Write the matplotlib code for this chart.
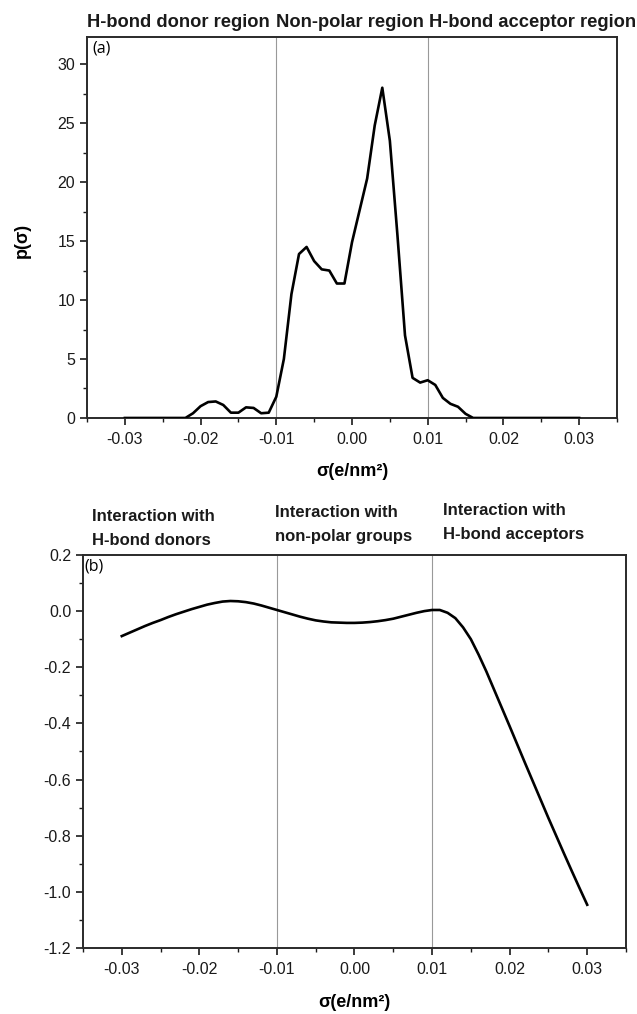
import numpy as np
import matplotlib
matplotlib.use('Agg')
import matplotlib.pyplot as plt
from matplotlib.ticker import MultipleLocator

plt.rcParams['font.family'] = ['Liberation Sans', 'DejaVu Sans']

# sigma grid of the profiles (e/nm2)
sigma = [-0.030, -0.029, -0.028, -0.027, -0.026, -0.025, -0.024, -0.023, -0.022, -0.021,
         -0.020, -0.019, -0.018, -0.017, -0.016, -0.015, -0.014, -0.013, -0.012, -0.011,
         -0.010, -0.009, -0.008, -0.007, -0.006, -0.005, -0.004, -0.003, -0.002, -0.001,
         0.000, 0.001, 0.002, 0.003, 0.004, 0.005, 0.006, 0.007, 0.008, 0.009,
         0.010, 0.011, 0.012, 0.013, 0.014, 0.015, 0.016, 0.017, 0.018, 0.019,
         0.020, 0.021, 0.022, 0.023, 0.024, 0.025, 0.026, 0.027, 0.028, 0.029, 0.030]

# (a) sigma profile p(sigma)
p_sigma = [0, 0, 0, 0, 0, 0, 0, 0, 0.0, 0.4,
           1.0, 1.35, 1.4, 1.1, 0.45, 0.45, 0.9, 0.85, 0.4, 0.45,
           1.8, 5.0, 10.5, 13.9, 14.5, 13.3, 12.6, 12.5, 11.4, 11.4,
           14.9, 17.6, 20.3, 24.8, 28.0, 23.5, 15.5, 7.0, 3.4, 3.0,
           3.2, 2.8, 1.7, 1.2, 0.95, 0.35, 0.0, 0, 0, 0,
           0, 0, 0, 0, 0, 0, 0, 0, 0, 0, 0]

# (b) sigma potential
mu_sigma = [-0.089, -0.077, -0.065, -0.053, -0.042, -0.032, -0.021, -0.011, -0.002, 0.007,
            0.015, 0.023, 0.029, 0.034, 0.036, 0.035, 0.032, 0.027, 0.020, 0.012,
            0.004, -0.004, -0.012, -0.020, -0.027, -0.033, -0.037, -0.040, -0.041, -0.042,
            -0.042, -0.041, -0.039, -0.036, -0.032, -0.027, -0.020, -0.013, -0.006, 0.000,
            0.004, 0.004, -0.006, -0.025, -0.058, -0.100, -0.155, -0.215, -0.280, -0.345,
            -0.410, -0.476, -0.542, -0.607, -0.672, -0.737, -0.800, -0.863, -0.925, -0.986, -1.046]

xtick_vals = [-0.03, -0.02, -0.01, 0.0, 0.01, 0.02, 0.03]
xtick_labs = ['-0.03', '-0.02', '-0.01', '0.00', '0.01', '0.02', '0.03']
ytick_vals_b = [0.2, 0.0, -0.2, -0.4, -0.6, -0.8, -1.0, -1.2]
ytick_labs_b = ['0.2', '0.0', '-0.2', '-0.4', '-0.6', '-0.8', '-1.0', '-1.2']

top_regions = ['H-bond donor region', 'Non-polar region', 'H-bond acceptor region']
bottom_regions = [('Interaction with', 'H-bond donors'),
                  ('Interaction with', 'non-polar groups'),
                  ('Interaction with', 'H-bond acceptors')]

fig = plt.figure(figsize=(6.37, 10.14), dpi=100)
ax1 = fig.add_axes([0.1366, 0.5878, 0.832, 0.3757])
ax2 = fig.add_axes([0.1303, 0.0651, 0.8524, 0.3876])


def style(ax):
    for s in ax.spines.values():
        s.set_linewidth(1.4)
        s.set_color('#2a2a2a')
    ax.xaxis.set_major_locator(MultipleLocator(0.01))
    ax.xaxis.set_minor_locator(MultipleLocator(0.005))
    ax.tick_params(which='major', direction='out', length=5, width=1.2,
                   labelsize=11.5, top=False, right=False, colors='#1a1a1a')
    ax.tick_params(which='minor', direction='out', length=3, width=1.0,
                   top=False, right=False, colors='#1a1a1a')
    ax.tick_params(axis='x', pad=5)
    ax.axvline(-0.01, color='#999999', lw=0.8, zorder=1)
    ax.axvline(0.01, color='#999999', lw=0.8, zorder=1)
    ax.set_xlim(-0.035, 0.035)
    ax.set_xticks(xtick_vals)
    ax.set_xticklabels(xtick_labs)


# ---- (a)
style(ax1)
ax1.plot(sigma, p_sigma, color='black', lw=1.9, zorder=3)
ax1.set_ylim(0, 32.3)
ax1.yaxis.set_major_locator(MultipleLocator(5))
ax1.yaxis.set_minor_locator(MultipleLocator(2.5))
ax1.set_xlabel('σ(e/nm²)', fontsize=13, fontweight='bold')
ax1.xaxis.set_label_coords(0.5, -0.118)
ax1.set_ylabel('p(σ)', fontsize=13, fontweight='bold')
ax1.yaxis.set_label_coords(-0.106, 0.467)
ax1.text(0.011, 0.992, '(a)', transform=ax1.transAxes, ha='left', va='top',
         fontsize=11.5, family=['Open Sans', 'DejaVu Sans'])

tr1 = ax1.get_xaxis_transform()
for xpos, lab in zip([-0.035, -0.0101, 0.0102], top_regions):
    ax1.text(xpos, 1.039, lab, transform=tr1, ha='left', va='center',
             fontsize=13.2, fontweight='bold', color='#1a1a1a', clip_on=False)

# ---- (b)
style(ax2)
ax2.plot(sigma, mu_sigma, color='black', lw=1.9, zorder=3)
ax2.set_ylim(-1.2, 0.2)
ax2.yaxis.set_minor_locator(MultipleLocator(0.1))
ax2.set_yticks(ytick_vals_b)
ax2.set_yticklabels(ytick_labs_b)
ax2.set_xlabel('σ(e/nm²)', fontsize=13, fontweight='bold')
ax2.xaxis.set_label_coords(0.5, -0.117)
ax2.text(0.003, 0.992, '(b)', transform=ax2.transAxes, ha='left', va='top',
         fontsize=11.5, family=['Open Sans', 'DejaVu Sans'])

tr2 = ax2.get_xaxis_transform()
for xpos, (l1, l2), dy in zip([-0.0338, -0.0102, 0.0114], bottom_regions, [0.0, 0.008, 0.013]):
    ax2.text(xpos, 1.099 + dy, l1, transform=tr2, ha='left', va='center',
             fontsize=12, fontweight='bold', color='#1a1a1a', clip_on=False)
    ax2.text(xpos, 1.038 + dy, l2, transform=tr2, ha='left', va='center',
             fontsize=12, fontweight='bold', color='#1a1a1a', clip_on=False)

fig.savefig('out.png', dpi=100)
